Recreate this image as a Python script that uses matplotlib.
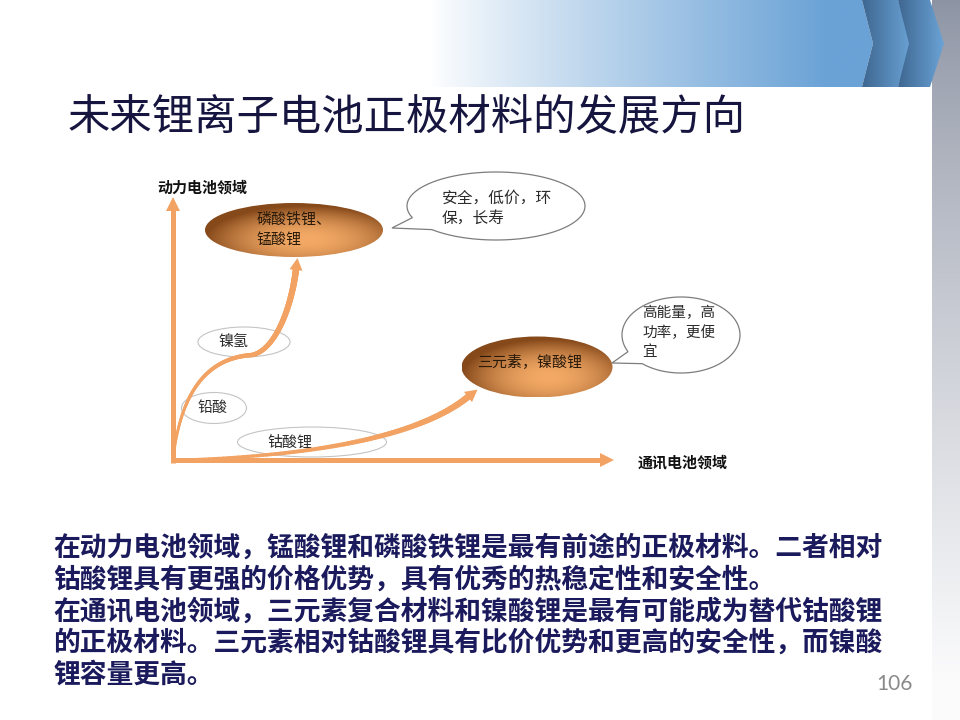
import numpy as np
import matplotlib.pyplot as plt
from matplotlib.patches import Ellipse, Polygon, Rectangle
from matplotlib.collections import LineCollection
from matplotlib.colors import to_rgb

plt.rcParams['font.family'] = ['Noto Sans CJK SC', 'DejaVu Sans']

title = '未来锂离子电池正极材料的发展方向'
y_label = '动力电池领域'
x_label = '通讯电池领域'
year_labels = ['2010', '2015']
year_x = [172, 445]

# big orange nodes
node_lines = [['磷酸铁锂、', '锰酸锂'], ['三元素，镍酸锂']]
node_x = [294, 537]
node_y = [230, 367]
node_w = [178, 151]
node_h = [54, 61]
node_tx = [257, 530]
node_ty = [[220, 240], [362]]
node_ha = ['left', 'center']

# small stage ellipses along the curves
stage_names = ['镍氢', '铅酸', '钴酸锂']
stage_x = [244, 214, 312]
stage_y = [342, 408, 442]
stage_w = [92, 65, 149]
stage_h = [30, 31, 30]
stage_tx = [233, 213, 290]
stage_ty = [342, 408, 443]

# speech bubbles
bubble_lines = [['安全，低价，环', '保，长寿'], ['高能量，高', '功率，更便', '宜']]
bubble_x = [496, 681]
bubble_y = [206, 335]
bubble_a = [89, 59]
bubble_b = [34, 38]
bubble_tip = [(392, 228), (612, 363)]
bubble_gap = [(136, 160), (131, 154)]
bubble_tx = [442, 642]
bubble_ty = [[198, 218], [313, 333, 352]]
bubble_fs = [11.3, 10.5]

body_lines = [
    '在动力电池领域，锰酸锂和磷酸铁锂是最有前途的正极材料。二者相对',
    '钴酸锂具有更强的价格优势，具有优秀的热稳定性和安全性。',
    '在通讯电池领域，三元素复合材料和镍酸锂是最有可能成为替代钴酸锂',
    '的正极材料。三元素相对钴酸锂具有比价优势和更高的安全性，而镍酸',
    '锂容量更高。',
]
body_y = [548, 580, 612, 643, 675]
page_no = '106'

ORANGE = '#f2a262'
NAVY = '#1a1a5c'
DARK = '#2b2b2b'


def lerp_img(c0, c1, t):
    c0 = np.array(to_rgb(c0))
    c1 = np.array(to_rgb(c1))
    t = np.clip(t, 0, 1)[..., None]
    return c0 * (1 - t) + c1 * t


def gradient_patch(ax, patch, extent, img, z):
    patch.set_facecolor('none')
    patch.set_edgecolor('none')
    ax.add_patch(patch)
    im = ax.imshow(img, extent=extent, origin='upper', aspect='auto',
                   interpolation='bilinear', zorder=z)
    im.set_clip_path(patch)


def bezier(p0, p1, p2, p3, n=80):
    t = np.linspace(0, 1, n)[:, None]
    p0, p1, p2, p3 = [np.array(p, float) for p in (p0, p1, p2, p3)]
    return (1 - t) ** 3 * p0 + 3 * (1 - t) ** 2 * t * p1 + 3 * (1 - t) * t ** 2 * p2 + t ** 3 * p3


def taper(ax, pts, w0, w1, z=3):
    segs = np.stack([pts[:-1], pts[1:]], axis=1)
    lw = np.linspace(w0, w1, len(segs)) * 0.72
    ax.add_collection(LineCollection(segs, linewidths=lw, colors=ORANGE,
                                     capstyle='round', zorder=z))


def head(ax, base, direction, length, width, z=3):
    d = np.array(direction, float)
    d /= np.linalg.norm(d)
    n = np.array([-d[1], d[0]])
    base = np.array(base, float)
    tip = base + d * length
    ax.add_patch(Polygon([tip, base + n * width / 2, base - n * width / 2],
                         closed=True, facecolor=ORANGE, lw=0, zorder=z))


fig = plt.figure(figsize=(9.6, 7.2), dpi=100)
ax = fig.add_axes([0, 0, 1, 1])
ax.axis('off')

# header banner
xs = np.linspace(0, 874, 400)
band = lerp_img('#ffffff', '#6aa2d6', ((xs - 430) / 400) ** 0.9 * (xs > 430))
gradient_patch(ax, Polygon([(0, 0), (862, 0), (873, 43.5), (862, 87), (0, 87)]),
               (0, 874, 87, 0), band[None, :, :], 1)

# grey side strip
ys = np.linspace(0, 720, 300)
strip = lerp_img('#8c93a3', '#fbfbfc', (ys / 680) ** 0.8)
gradient_patch(ax, Rectangle((932, 0), 28, 720), (932, 960, 720, 0),
               strip[:, None, :], 1)

# chevrons
chev = lerp_img('#3e6791', '#6ba3d6', np.linspace(0, 1, 100))
for x0, x1 in [(862, 898), (898, 930)]:
    poly = Polygon([(x0, 0), (x1, 0), (x1 + 14, 43.5), (x1, 87), (x0, 87), (x0 + 11, 43.5)])
    gradient_patch(ax, poly, (x0, x1 + 14, 87, 0), chev[None, :, :], 2)

ax.text(68, 117, title, fontsize=30.5, color='#15153f', va='center', ha='left')

# stage ellipses
for i in range(len(stage_names)):
    ax.add_patch(Ellipse((stage_x[i], stage_y[i]), stage_w[i], stage_h[i],
                         facecolor='white', edgecolor='#c4c4c4', lw=0.8, zorder=2))
    ax.text(stage_tx[i], stage_ty[i], stage_names[i], fontsize=10.8, color=DARK,
            ha='center', va='center', zorder=2.5)

# axes arrows
ax.plot([173, 173], [463, 210], color=ORANGE, lw=3.6, solid_capstyle='butt', zorder=3)
head(ax, (173, 211), (0, -1), 14, 14)
ax.plot([171, 601], [460, 460], color=ORANGE, lw=3.6, solid_capstyle='butt', zorder=3)
head(ax, (600, 460), (1, 0), 14, 14)

# curve 1 : lead acid -> NiMH -> LFP / LMO
c1a = bezier((173, 460), (180, 395), (205, 358), (252, 355))
c1b = bezier((252, 355), (276, 350), (292, 305), (296, 269))
c1 = np.vstack([c1a, c1b[1:]])
taper(ax, c1, 2.5, 6.5)
head(ax, (296, 270), (0.4, -3.3), 12, 13)

# curve 2 : LCO -> NCM / LNO
c2 = bezier((173, 460), (310, 457), (420, 437), (469, 396))
taper(ax, c2, 2.5, 6.5)
head(ax, (468, 397), (58, -45), 12, 13)

# big nodes with gradient
for i in range(len(node_lines)):
    cx, cy, w, h = node_x[i], node_y[i], node_w[i], node_h[i]
    gx = np.linspace(-1, 1, 200)
    gy = np.linspace(-1, 1, 100)
    X, Y = np.meshgrid(gx, gy)
    r = np.sqrt(((X - 0.15) / 1.15) ** 2 + ((Y - 0.35) / 1.25) ** 2)
    img = lerp_img('#f4aa66', '#86491a', r ** 1.9)
    gradient_patch(ax, Ellipse((cx, cy), w, h),
                   (cx - w / 2, cx + w / 2, cy + h / 2, cy - h / 2), img, 4)
    for line, ty in zip(node_lines[i], node_ty[i]):
        ax.text(node_tx[i], ty, line, fontsize=10.8, color='#2a1a0a',
                ha=node_ha[i], va='center', zorder=5)

# speech bubbles
for i in range(len(bubble_lines)):
    g0, g1 = np.radians(bubble_gap[i])
    th = np.linspace(g1, g0 + 2 * np.pi, 200)
    pts = np.column_stack([bubble_x[i] + bubble_a[i] * np.cos(th),
                           bubble_y[i] + bubble_b[i] * np.sin(th)])
    pts = np.vstack([pts, bubble_tip[i]])
    ax.add_patch(Polygon(pts, closed=True, facecolor='white', edgecolor='#7d7d7d',
                         lw=0.9, zorder=4))
    for line, ty in zip(bubble_lines[i], bubble_ty[i]):
        ax.text(bubble_tx[i], ty, line, fontsize=bubble_fs[i], color=DARK,
                ha='left', va='center', zorder=5)

# axis labels
ax.text(157, 188, y_label, fontsize=10.8, fontweight='bold', color='#111111',
        ha='left', va='center')
ax.text(638, 462, x_label, fontsize=10.8, fontweight='bold', color='#111111',
        ha='left', va='center')

# year ticks, mostly cut off below the picture
for lab, x in zip(year_labels, year_x):
    ax.text(x, 482, lab, fontsize=10, color='#555555', ha='center', va='center', zorder=2)
ax.add_patch(Rectangle((140, 475), 360, 40, facecolor='white', lw=0, zorder=2.2))

for line, y in zip(body_lines, body_y):
    ax.text(53, y, line, fontsize=19.3, fontweight='bold', color=NAVY,
            ha='left', va='center')

ax.text(894, 684, page_no, fontsize=15, color='#8a8a8a', ha='center', va='center',
        family=['Lato', 'DejaVu Sans'])

ax.set_xlim(0, 960)
ax.set_ylim(720, 0)
fig.savefig('out.png', dpi=100, facecolor='white')
